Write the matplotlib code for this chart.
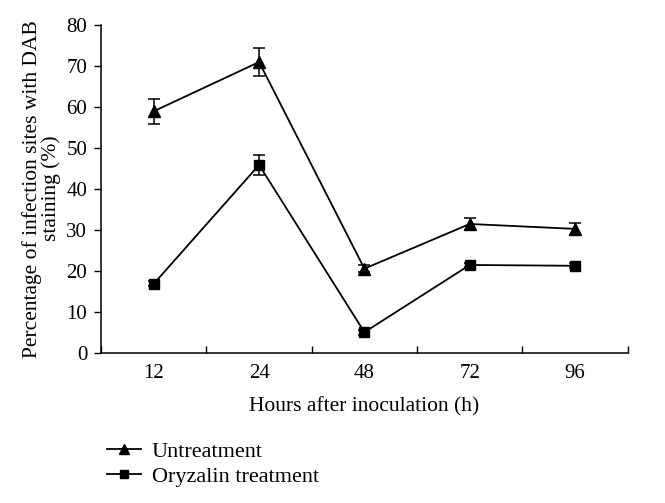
import numpy as np
import matplotlib.pyplot as plt
from matplotlib.lines import Line2D
from matplotlib.ticker import FixedLocator

plt.rcParams['font.family'] = ['Liberation Serif', 'DejaVu Serif']

hours = ['12', '24', '48', '72', '96']
untreat = [59.0, 71.0, 20.6, 31.5, 30.3]
untreat_err = [3.0, 3.5, 0.8, 1.5, 1.5]
oryzalin = [16.9, 45.9, 5.1, 21.5, 21.3]
oryzalin_err = [0.6, 2.5, 0.6, 0.6, 0.6]

fig = plt.figure(figsize=(6.65, 5.03), dpi=100)
ax = fig.add_axes([0.152, 0.298, 0.792, 0.652])

x = np.arange(len(hours))
ax.errorbar(x, untreat, yerr=untreat_err, color='black', marker='^', markersize=8,
            linewidth=1.3, capsize=4, elinewidth=1.1, capthick=1.1)
ax.errorbar(x, oryzalin, yerr=oryzalin_err, color='black', marker='s', markersize=7.5,
            linewidth=1.3, capsize=4, elinewidth=1.1, capthick=1.1)

ax.set_xlim(-0.5, len(hours) - 0.5)
ax.set_ylim(0, 80)
ax.set_yticks(range(0, 81, 10))
ax.set_xticks(x)
ax.set_xticklabels(hours)
ax.xaxis.set_minor_locator(FixedLocator(np.arange(-0.5, len(hours), 1.0)))
ax.tick_params(axis='x', which='major', length=0, labelsize=15, pad=8)
ax.tick_params(axis='x', which='minor', direction='in', length=5, width=1)
ax.tick_params(axis='y', direction='out', length=5, width=1, labelsize=15, pad=5)

for s in ['top', 'right']:
    ax.spines[s].set_visible(False)
for s in ['left', 'bottom']:
    ax.spines[s].set_linewidth(1.1)

ax.set_xlabel('Hours after inoculation (h)', fontsize=15.5, labelpad=10)
fig.text(0.063, 0.625, 'Percentage of infection sites with DAB\nstaining (%)',
         rotation=90, ha='center', va='center', multialignment='center',
         fontsize=15.5, linespacing=0.95)

handles = [Line2D([], [], color='black', marker='^', markersize=6.5, linewidth=1.3),
           Line2D([], [], color='black', marker='s', markersize=6, linewidth=1.3)]
labels = ['Untreatment', 'Oryzalin treatment']
fig.legend(handles, labels, loc='upper left', bbox_to_anchor=(0.148, 0.14),
           frameon=False, fontsize=16, handlelength=1.5, handletextpad=0.5,
           labelspacing=0.2, borderaxespad=0)

fig.savefig('out.png', dpi=100)
